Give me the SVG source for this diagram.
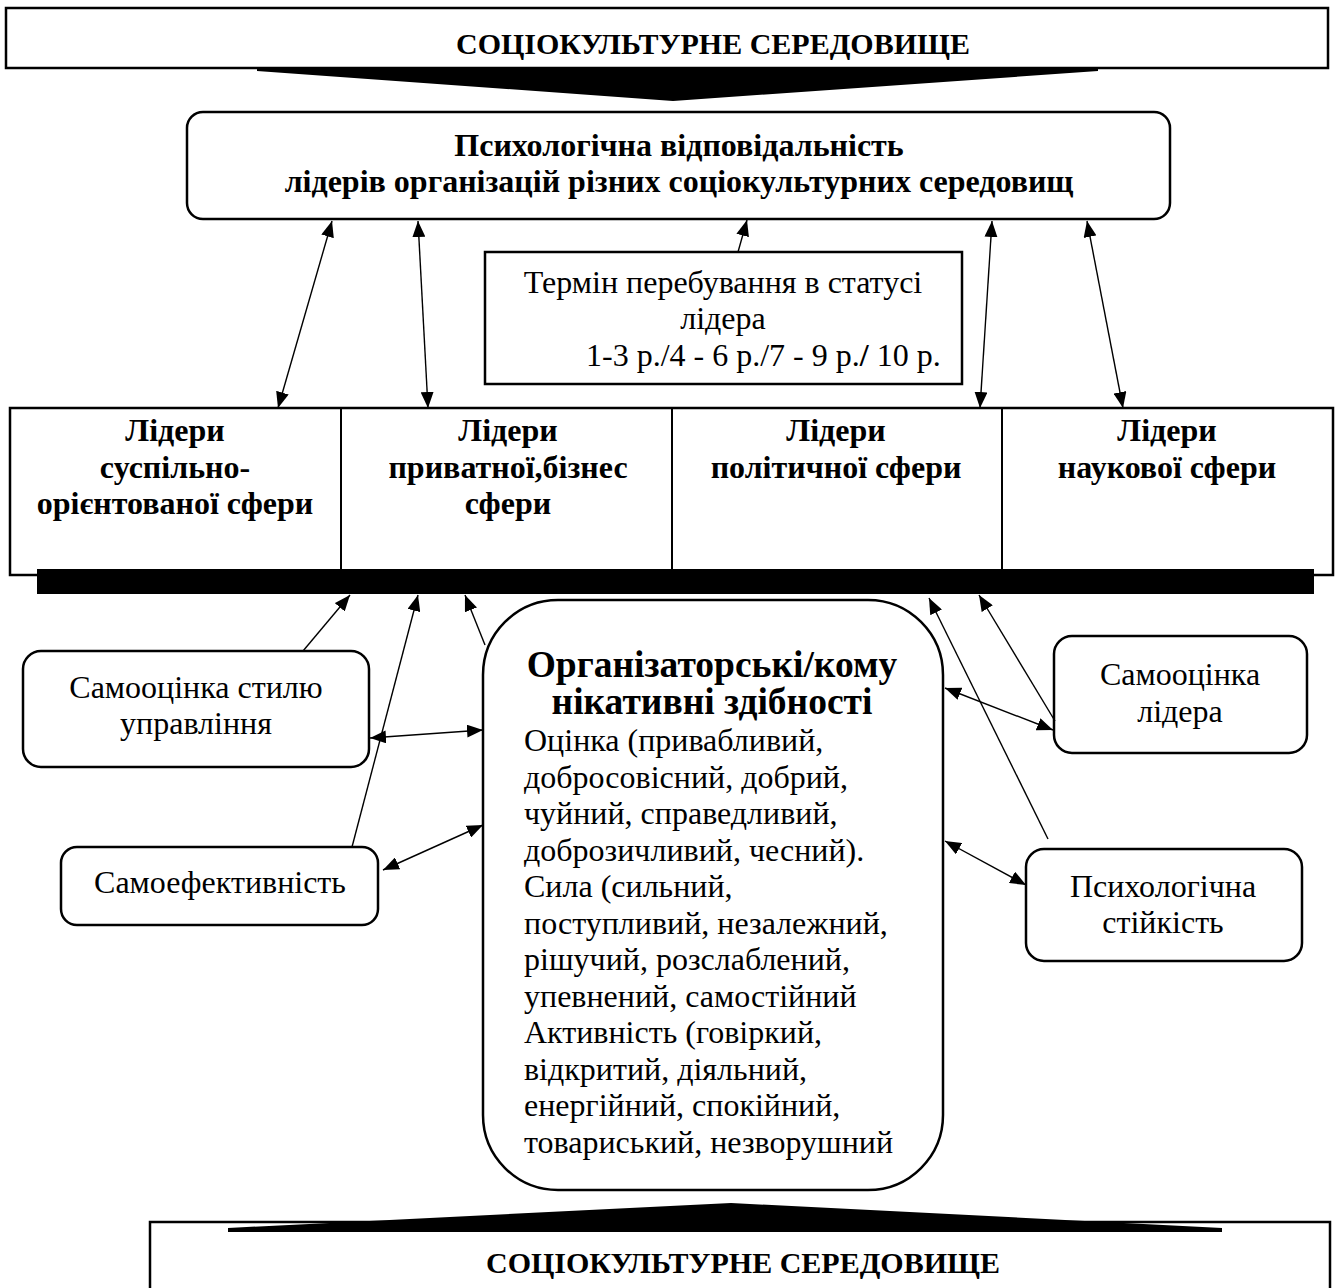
<svg xmlns="http://www.w3.org/2000/svg" width="1338" height="1288" viewBox="0 0 1338 1288">
<defs>
<marker id="ah" markerUnits="userSpaceOnUse" markerWidth="16" markerHeight="13" refX="16" refY="6.5" orient="auto-start-reverse">
<path d="M0,0 L16,6.5 L0,13 z" fill="#000"/>
</marker>
</defs>
<style>
.box{fill:#fff;stroke:#000;stroke-width:2.5}
.bt{font-family:"Liberation Serif","Times New Roman",serif;font-weight:bold;fill:#000}
.rt{font-family:"Liberation Serif","Times New Roman",serif;fill:#000}
.c{stroke:#000;stroke-width:1.4;fill:none}
</style>
<rect width="1338" height="1288" fill="#fff"/>

<g id="banner-top">
<rect class="box" x="6" y="8" width="1322" height="60"/>
<polygon points="257,67 1098,67 1098,71 673,101 257,71" fill="#000"/>
<text class="bt" x="713" y="54" font-size="30" text-anchor="middle">СОЦІОКУЛЬТУРНЕ СЕРЕДОВИЩЕ</text>
</g>

<g id="responsibility">
<rect class="box" x="187" y="112" width="983" height="107" rx="16"/>
<text class="bt" font-size="32" text-anchor="middle"><tspan x="679" y="156">Психологічна відповідальність</tspan><tspan x="679" y="192">лідерів організацій різних соціокультурних середовищ</tspan></text>
</g>

<g id="term">
<rect class="box" x="485" y="252" width="477" height="132"/>
<text class="rt" font-size="32" text-anchor="middle"><tspan x="723" y="293">Термін перебування в статусі</tspan><tspan x="723" y="329">лідера</tspan></text>
<text class="rt" font-size="32" x="586" y="366">1-3 р./4 - 6 р./7 - 9 р.<tspan font-weight="bold">/</tspan> 10 р.</text>
</g>

<g id="leaders">
<rect class="box" x="10" y="408" width="1323" height="167"/>
<line x1="341" y1="408" x2="341" y2="575" stroke="#000" stroke-width="2"/>
<line x1="672" y1="408" x2="672" y2="575" stroke="#000" stroke-width="2"/>
<line x1="1002" y1="408" x2="1002" y2="575" stroke="#000" stroke-width="2"/>
<rect x="37" y="569" width="1277" height="25" fill="#000"/>
</g>
<g id="leader-1">
<text class="bt" font-size="32" text-anchor="middle"><tspan x="175" y="441">Лідери</tspan><tspan x="175" y="478">суспільно-</tspan><tspan x="175" y="514">орієнтованої сфери</tspan></text>
</g>
<g id="leader-2">
<text class="bt" font-size="32" text-anchor="middle"><tspan x="508" y="441">Лідери</tspan><tspan x="508" y="478">приватної,бізнес</tspan><tspan x="508" y="514">сфери</tspan></text>
</g>
<g id="leader-3">
<text class="bt" font-size="32" text-anchor="middle"><tspan x="836" y="441">Лідери</tspan><tspan x="836" y="478">політичної сфери</tspan></text>
</g>
<g id="leader-4">
<text class="bt" font-size="32" text-anchor="middle"><tspan x="1167" y="441">Лідери</tspan><tspan x="1167" y="478">наукової сфери</tspan></text>
</g>

<g id="style-self">
<rect class="box" x="23" y="651" width="346" height="116" rx="18"/>
<text class="rt" font-size="32" text-anchor="middle"><tspan x="196" y="698">Самооцінка стилю</tspan><tspan x="196" y="734">управління</tspan></text>
</g>

<g id="self-efficacy">
<rect class="box" x="61" y="847" width="317" height="78" rx="16"/>
<text class="rt" font-size="32" text-anchor="middle" x="220" y="893">Самоефективність</text>
</g>

<g id="abilities">
<rect class="box" x="483" y="600" width="460" height="590" rx="75"/>
<text class="bt" font-size="37.5" text-anchor="middle"><tspan x="712" y="677">Організаторські/кому</tspan><tspan x="712" y="714">нікативні здібності</tspan></text>
<text class="rt" font-size="32"><tspan x="524" y="751">Оцінка (привабливий,</tspan><tspan x="524" y="787.5">добросовісний, добрий,</tspan><tspan x="524" y="824">чуйний, справедливий,</tspan><tspan x="524" y="860.5">доброзичливий, чесний).</tspan><tspan x="524" y="897">Сила (сильний,</tspan><tspan x="524" y="933.5">поступливий, незалежний,</tspan><tspan x="524" y="970">рішучий, розслаблений,</tspan><tspan x="524" y="1006.5">упевнений, самостійний</tspan><tspan x="524" y="1043">Активність (говіркий,</tspan><tspan x="524" y="1079.5">відкритий, діяльний,</tspan><tspan x="524" y="1116">енергійний, спокійний,</tspan><tspan x="524" y="1152.5">товариський, незворушний</tspan></text>
</g>

<g id="leader-self">
<rect class="box" x="1054" y="636" width="253" height="117" rx="18"/>
<text class="rt" font-size="32" text-anchor="middle"><tspan x="1180" y="685">Самооцінка</tspan><tspan x="1180" y="722">лідера</tspan></text>
</g>

<g id="stability">
<rect class="box" x="1026" y="849" width="276" height="112" rx="18"/>
<text class="rt" font-size="32" text-anchor="middle"><tspan x="1163" y="897">Психологічна</tspan><tspan x="1163" y="933">стійкість</tspan></text>
</g>

<g id="banner-bottom">
<rect class="box" x="150" y="1222" width="1180" height="80"/>
<polygon points="228,1228 731,1203 1222,1228 1222,1232 228,1232" fill="#000"/>
<text class="bt" x="743" y="1273" font-size="30" text-anchor="middle">СОЦІОКУЛЬТУРНЕ СЕРЕДОВИЩЕ</text>
</g>

<g id="connectors">
<line class="c" x1="332" y1="221" x2="278" y2="408" marker-start="url(#ah)" marker-end="url(#ah)"/>
<line class="c" x1="418" y1="221" x2="428" y2="408" marker-start="url(#ah)" marker-end="url(#ah)"/>
<line class="c" x1="738" y1="252" x2="747" y2="220" marker-end="url(#ah)"/>
<line class="c" x1="992" y1="221" x2="980" y2="408" marker-start="url(#ah)" marker-end="url(#ah)"/>
<line class="c" x1="1087" y1="221" x2="1123" y2="408" marker-start="url(#ah)" marker-end="url(#ah)"/>
<line class="c" x1="303" y1="651" x2="350" y2="595" marker-end="url(#ah)"/>
<line class="c" x1="352" y1="847" x2="418" y2="595" marker-end="url(#ah)"/>
<line class="c" x1="370" y1="738" x2="483" y2="730" marker-start="url(#ah)" marker-end="url(#ah)"/>
<line class="c" x1="383" y1="870" x2="483" y2="825" marker-start="url(#ah)" marker-end="url(#ah)"/>
<line class="c" x1="485" y1="645" x2="465" y2="595" marker-end="url(#ah)"/>
<line class="c" x1="945" y1="688" x2="1053" y2="730" marker-start="url(#ah)" marker-end="url(#ah)"/>
<line class="c" x1="945" y1="841" x2="1026" y2="885" marker-start="url(#ah)" marker-end="url(#ah)"/>
<line class="c" x1="1055" y1="721" x2="979" y2="595" marker-end="url(#ah)"/>
<line class="c" x1="1048" y1="839" x2="929" y2="598" marker-end="url(#ah)"/>
</g>
</svg>
